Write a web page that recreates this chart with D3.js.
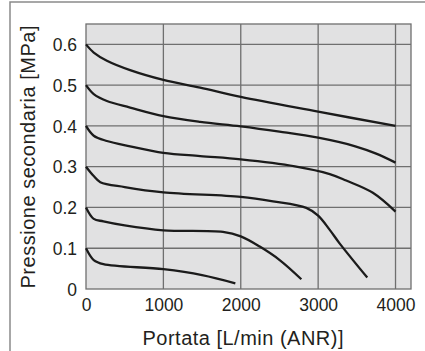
<!DOCTYPE html>
<html>
<head>
<meta charset="utf-8">
<script src="https://cdn.jsdelivr.net/npm/d3@7"></script>
<style>
  body { margin: 0; background: #fff; }
  text { font-family: "Liberation Sans", Arial, sans-serif; fill: #231f20; }
</style>
</head>
<body>
<div id="chart"></div>
<script>
// Flow values [L/min (ANR)] and secondary pressure [MPa], one array per set pressure
const curve06 = [[0, 0.60], [100, 0.58], [270, 0.56], [570, 0.537], [1000, 0.513], [1475, 0.494], [2000, 0.471], [3000, 0.435], [4000, 0.40]];
const curve05 = [[0, 0.50], [100, 0.478], [270, 0.461], [570, 0.445], [1000, 0.424], [1475, 0.41], [2000, 0.399], [2500, 0.386], [3000, 0.371], [3480, 0.35], [3750, 0.332], [4000, 0.31]];
const curve04 = [[0, 0.40], [100, 0.376], [270, 0.363], [570, 0.35], [1000, 0.334], [1475, 0.326], [2000, 0.318], [2700, 0.301], [3150, 0.282], [3363, 0.266], [3707, 0.236], [4000, 0.19]];
const curve03 = [[0, 0.30], [100, 0.277], [185, 0.262], [500, 0.25], [1000, 0.237], [2000, 0.226], [2417, 0.215], [2847, 0.199], [3000, 0.18], [3150, 0.145], [3277, 0.112], [3635, 0.028]];
const curve02 = [[0, 0.20], [100, 0.172], [225, 0.166], [500, 0.156], [1000, 0.144], [1770, 0.14], [2000, 0.129], [2245, 0.104], [2503, 0.071], [2783, 0.024]];
const curve01 = [[0, 0.10], [100, 0.071], [225, 0.061], [1000, 0.0485], [1500, 0.034], [1930, 0.014]];
const curves = [curve06, curve05, curve04, curve03, curve02, curve01];

const xTicks = [0, 1000, 2000, 3000, 4000];
const yTicks = [0, 0.1, 0.2, 0.3, 0.4, 0.5, 0.6];

const W = 425, H = 351;
const plot = { left: 86, right: 411, top: 24, bottom: 289 };

const svg = d3.select("#chart").append("svg")
    .attr("width", W)
    .attr("height", H);

// outer frame (runs off the right and bottom edges)
svg.append("path")
    .attr("d", "M10," + (H + 5) + "V2H" + (W + 5))
    .attr("fill", "none")
    .attr("stroke", "#8a8a8a")
    .attr("stroke-width", 1.5);

const x = d3.scaleLinear().domain([0, 4200]).range([plot.left, plot.right]);
const y = d3.scaleLinear().domain([0, 0.65]).range([plot.bottom, plot.top]);

// plot background
svg.append("rect")
    .attr("x", plot.left)
    .attr("y", plot.top)
    .attr("width", plot.right - plot.left)
    .attr("height", plot.bottom - plot.top)
    .attr("fill", "#e1e1e2");

// grid
svg.append("g").selectAll("line")
    .data(xTicks.filter(d => d > 0))
  .enter().append("line")
    .attr("x1", d => x(d)).attr("x2", d => x(d))
    .attr("y1", plot.top).attr("y2", plot.bottom)
    .attr("stroke", "#6f6f6f")
    .attr("stroke-width", 1.3);

svg.append("g").selectAll("line")
    .data(yTicks.filter(d => d > 0))
  .enter().append("line")
    .attr("x1", plot.left).attr("x2", plot.right)
    .attr("y1", d => y(d)).attr("y2", d => y(d))
    .attr("stroke", "#6f6f6f")
    .attr("stroke-width", 1.3);

// plot border
svg.append("rect")
    .attr("x", plot.left)
    .attr("y", plot.top)
    .attr("width", plot.right - plot.left)
    .attr("height", plot.bottom - plot.top)
    .attr("fill", "none")
    .attr("stroke", "#6f6f6f")
    .attr("stroke-width", 1.3);

// axes (labels only)
const xAxis = svg.append("g")
    .attr("transform", "translate(0," + plot.bottom + ")")
    .call(d3.axisBottom(x).tickValues(xTicks).tickSize(0).tickPadding(0).tickFormat(d3.format("d")));
xAxis.select(".domain").remove();
xAxis.selectAll("text")
    .attr("y", 22)
    .attr("dy", null)
    .style("font-size", "17.5px");

const yAxis = svg.append("g")
    .attr("transform", "translate(" + plot.left + ",0)")
    .call(d3.axisLeft(y).tickValues(yTicks).tickSize(0).tickPadding(0).tickFormat(d => d === 0 ? "0" : d3.format(".1f")(d)));
yAxis.select(".domain").remove();
yAxis.selectAll("text")
    .attr("x", -9)
    .attr("dy", "0.35em")
    .style("font-size", "17.5px");

// axis titles
svg.append("text")
    .attr("x", 243)
    .attr("y", 345)
    .attr("text-anchor", "middle")
    .style("font-size", "20px")
    .attr("textLength", 201)
    .text("Portata [L/min (ANR)]");

svg.append("text")
    .attr("transform", "translate(35,157) rotate(-90)")
    .attr("text-anchor", "middle")
    .style("font-size", "20px")
    .attr("textLength", 263)
    .text("Pressione secondaria [MPa]");

// curves
const line = d3.line()
    .x(d => x(d[0]))
    .y(d => y(d[1]))
    .curve(d3.curveCatmullRom.alpha(0.5));

svg.append("g").selectAll("path")
    .data(curves)
  .enter().append("path")
    .attr("d", line)
    .attr("fill", "none")
    .attr("stroke", "#1b1b1b")
    .attr("stroke-width", 2.3)
    .attr("stroke-linecap", "butt");
</script>
</body>
</html>
